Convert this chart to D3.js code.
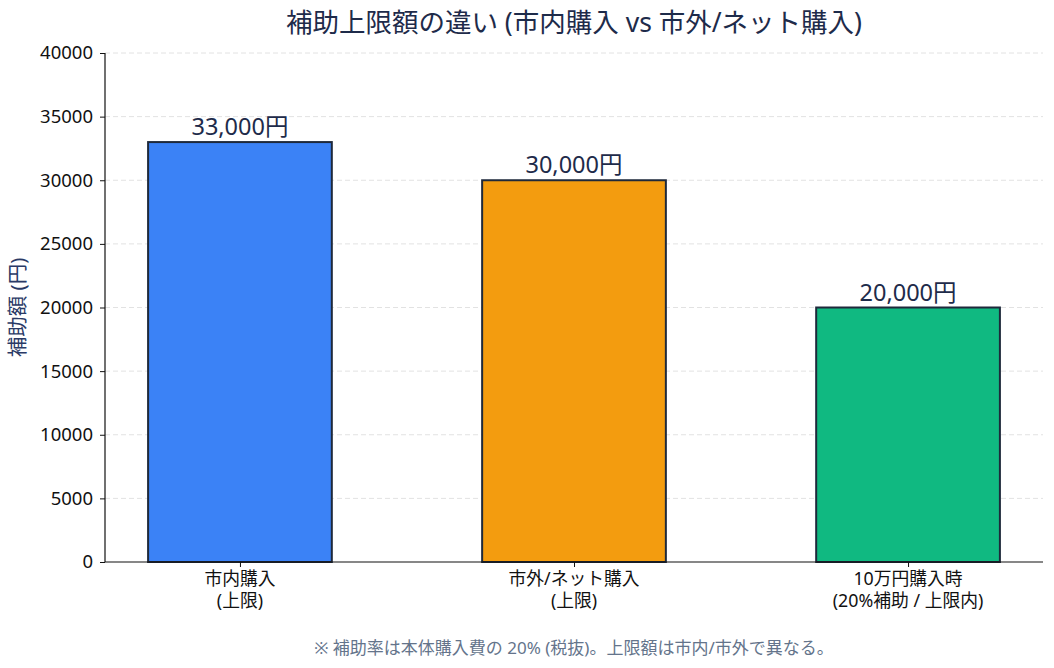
<!DOCTYPE html>
<html>
<head>
<meta charset="utf-8">
<script src="https://cdn.jsdelivr.net/npm/d3@7"></script>
<style>
  body { margin: 0; background: #fff; }
  svg text { font-family: "Noto Sans", "Noto Sans CJK JP", sans-serif; }
</style>
</head>
<body>
<div id="chart"></div>
<script>
const categories = [["市内購入", "(上限)"], ["市外/ネット購入", "(上限)"], ["10万円購入時", "(20%補助 / 上限内)"]];
const values = [33000, 30000, 20000];
const barLabels = ["33,000円", "30,000円", "20,000円"];
const colors = ["#3b82f6", "#f39c0f", "#10b981"];
const yTicks = [0, 5000, 10000, 15000, 20000, 25000, 30000, 35000, 40000];

const W = 1054, H = 668;
const axLeft = 105, axRight = 1043, axTop = 53, axBottom = 562;

const svg = d3.select("#chart").append("svg")
  .attr("width", W).attr("height", H);

const x = d3.scalePoint()
  .domain(d3.range(categories.length))
  .range([axLeft, axRight])
  .padding(0.404);

const y = d3.scaleLinear()
  .domain([0, 40000])
  .range([axBottom, axTop]);

const barW = x.step() * 0.55;

// grid
svg.append("g").selectAll("line")
  .data(yTicks.slice(1))
  .enter().append("line")
  .attr("x1", axLeft).attr("x2", axRight)
  .attr("y1", d => y(d)).attr("y2", d => y(d))
  .attr("stroke", "#e2e2e2")
  .attr("stroke-dasharray", "5,3")
  .attr("stroke-width", 1);

// bars
svg.append("g").selectAll("rect")
  .data(values)
  .enter().append("rect")
  .attr("x", (d, i) => x(i) - barW / 2)
  .attr("y", d => y(d))
  .attr("width", barW)
  .attr("height", d => y(0) - y(d))
  .attr("fill", (d, i) => colors[i])
  .attr("stroke", "#1e293b")
  .attr("stroke-width", 2);

// value labels
svg.append("g").selectAll("text")
  .data(values)
  .enter().append("text")
  .attr("x", (d, i) => x(i))
  .attr("y", d => y(d) - 7)
  .attr("text-anchor", "middle")
  .attr("font-size", 23.5)
  .attr("fill", "#1e2b4a")
  .text((d, i) => barLabels[i]);

// y axis
const yAxis = svg.append("g")
  .attr("transform", `translate(${axLeft},0)`)
  .call(d3.axisLeft(y).tickValues(yTicks).tickFormat(d3.format("d")).tickSize(5).tickPadding(7));
yAxis.selectAll("text").attr("font-size", 18.5).attr("fill", "#111");
yAxis.selectAll("line,path").attr("stroke", "#111");
yAxis.select(".domain").attr("d", `M0,${axTop}V${axBottom}`).attr("stroke-width", 1.2);

// x axis
const xAxis = svg.append("g")
  .attr("transform", `translate(0,${axBottom})`)
  .call(d3.axisBottom(x).tickSize(5).tickFormat(""));
xAxis.select(".domain").attr("d", `M${axLeft},0H${axRight}`).attr("stroke", "#111").attr("stroke-width", 1.2);
xAxis.selectAll(".tick line").attr("stroke", "#111");

// two-line category labels
const xl = svg.append("g").selectAll("text")
  .data(categories)
  .enter().append("text")
  .attr("x", (d, i) => x(i))
  .attr("y", axBottom + 23)
  .attr("text-anchor", "middle")
  .attr("font-size", 17.8)
  .attr("fill", "#111");
xl.append("tspan").attr("x", (d, i) => x(i)).text(d => d[0]);
xl.append("tspan").attr("x", (d, i) => x(i)).attr("dy", 22).text(d => d[1]);

// title
svg.append("text")
  .attr("x", (axLeft + axRight) / 2)
  .attr("y", 32)
  .attr("text-anchor", "middle")
  .attr("font-size", 26.5)
  .attr("fill", "#1e2b4a")
  .text("補助上限額の違い (市内購入 vs 市外/ネット購入)");

// y label
svg.append("text")
  .attr("transform", `translate(25,${(axTop + axBottom) / 2}) rotate(-90)`)
  .attr("text-anchor", "middle")
  .attr("font-size", 20.5)
  .attr("fill", "#2a3a66")
  .text("補助額 (円)");

// footnote
svg.append("text")
  .attr("x", (axLeft + axRight) / 2)
  .attr("y", 654)
  .attr("text-anchor", "middle")
  .attr("font-size", 17)
  .attr("fill", "#64748b")
  .text("※ 補助率は本体購入費の 20% (税抜)。上限額は市内/市外で異なる。");
</script>
</body>
</html>
